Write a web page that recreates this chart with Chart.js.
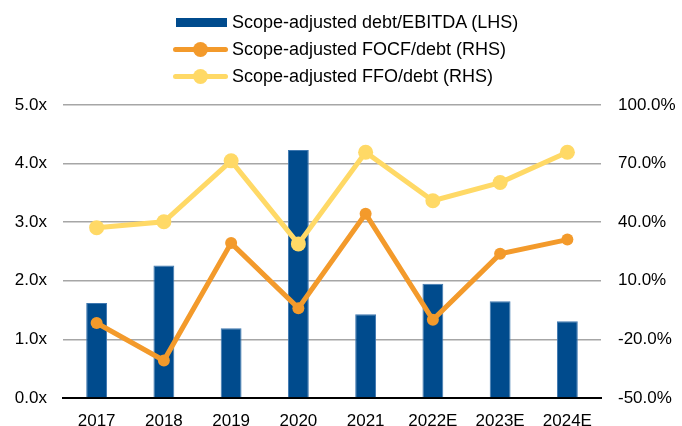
<!DOCTYPE html>
<html>
<head>
<meta charset="utf-8">
<script src="https://cdn.jsdelivr.net/npm/chart.js@4.4.1/dist/chart.umd.min.js"></script>
<style>
    body { margin: 0; background: #fff; }
    #wrap { position: relative; width: 682px; height: 426px; }
    #legend { position: absolute; left: 173px; top: 9px; font-family: "Liberation Sans", Arial, sans-serif; font-size: 18px; color: #000; }
    .row { height: 27px; display: flex; align-items: center; }
    .mark { position: relative; width: 56px; height: 27px; flex: none; }
    .box { position: absolute; left: 3px; top: 9px; width: 51px; height: 9px; }
    .ln { position: absolute; left: 0; top: 11px; width: 55px; height: 5px; border-radius: 3px; }
    .dot { position: absolute; left: 20px; top: 6px; width: 15px; height: 15px; border-radius: 50%; }
    .txt { margin-left: 3px; white-space: nowrap; }
</style>
</head>
<body>
<div id="wrap">
    <canvas id="myChart" width="682" height="426"></canvas>
    <div id="legend"></div>
</div>
<script>
const years = ["2017", "2018", "2019", "2020", "2021", "2022E", "2023E", "2024E"];
const debtEbitda = [1.62, 2.26, 1.19, 4.23, 1.43, 1.95, 1.65, 1.31];
const focfDebt = [-11.6, -30.8, 29.3, -4.0, 44.3, -10.0, 23.8, 31.1];
const ffoDebt = [37.2, 40.2, 71.4, 28.9, 75.8, 51.0, 60.3, 75.8];

const blue = "#004B8D";
const orange = "#F39A2B";
const yellow = "#FFD966";

const tickFont = { family: "'Liberation Sans', Arial, sans-serif", size: 17 };

const chart = new Chart("myChart", {
    data: {
        labels: years,
        datasets: [{
            type: "bar",
            label: "Scope-adjusted debt/EBITDA (LHS)",
            data: debtEbitda,
            backgroundColor: blue,
            borderColor: "#3f78b0",
            borderWidth: 1,
            barPercentage: 0.31,
            categoryPercentage: 1,
            yAxisID: "y",
            order: 3
        }, {
            type: "line",
            label: "Scope-adjusted FOCF/debt (RHS)",
            data: focfDebt,
            borderColor: orange,
            backgroundColor: orange,
            borderWidth: 5,
            pointRadius: 6,
            pointBorderWidth: 0,
            tension: 0,
            yAxisID: "y1",
            order: 1
        }, {
            type: "line",
            label: "Scope-adjusted FFO/debt (RHS)",
            data: ffoDebt,
            borderColor: yellow,
            backgroundColor: yellow,
            borderWidth: 5,
            pointRadius: 7.5,
            pointBorderWidth: 0,
            tension: 0,
            yAxisID: "y1",
            order: 2
        }]
    },
    options: {
        responsive: false,
        animation: false,
        layout: { padding: { top: 105, left: 0, right: 0, bottom: 0 } },
        plugins: {
            legend: { display: false },
            tooltip: { enabled: false }
        },
        scales: {
            x: {
                grid: { display: false },
                border: { display: true, color: "#000", width: 2 },
                ticks: { color: "#000", font: tickFont, padding: 5, maxRotation: 0 },
                afterFit: function (s) { s.height = 28; }
            },
            y: {
                position: "left",
                min: 0,
                max: 5,
                ticks: {
                    stepSize: 1,
                    color: "#000",
                    font: tickFont,
                    padding: 16,
                    callback: function (v) { return v.toFixed(1) + "x"; }
                },
                grid: {
                    drawTicks: false,
                    lineWidth: 1.5,
                    color: function (c) { return c.tick && c.tick.value === 0 ? "rgba(0,0,0,0)" : "#a6a6a6"; }
                },
                border: { display: false },
                afterFit: function (s) { s.width = 63; }
            },
            y1: {
                position: "right",
                min: -50,
                max: 100,
                ticks: {
                    stepSize: 30,
                    color: "#000",
                    font: tickFont,
                    padding: 17,
                    callback: function (v) { return v.toFixed(1) + "%"; }
                },
                grid: { display: false, drawTicks: false },
                border: { display: false },
                afterFit: function (s) { s.width = 81; }
            }
        }
    }
});

// html legend built from the datasets
const legendEl = document.getElementById("legend");
chart.data.datasets.forEach(function (ds) {
    const row = document.createElement("div");
    row.className = "row";
    const mark = document.createElement("div");
    mark.className = "mark";
    if (ds.type === "bar") {
        const b = document.createElement("div");
        b.className = "box";
        b.style.background = ds.backgroundColor;
        mark.appendChild(b);
    } else {
        const l = document.createElement("div");
        l.className = "ln";
        l.style.background = ds.borderColor;
        const d = document.createElement("div");
        d.className = "dot";
        d.style.background = ds.borderColor;
        mark.appendChild(l);
        mark.appendChild(d);
    }
    const t = document.createElement("span");
    t.className = "txt";
    t.textContent = ds.label;
    row.appendChild(mark);
    row.appendChild(t);
    legendEl.appendChild(row);
});
</script>
</body>
</html>
